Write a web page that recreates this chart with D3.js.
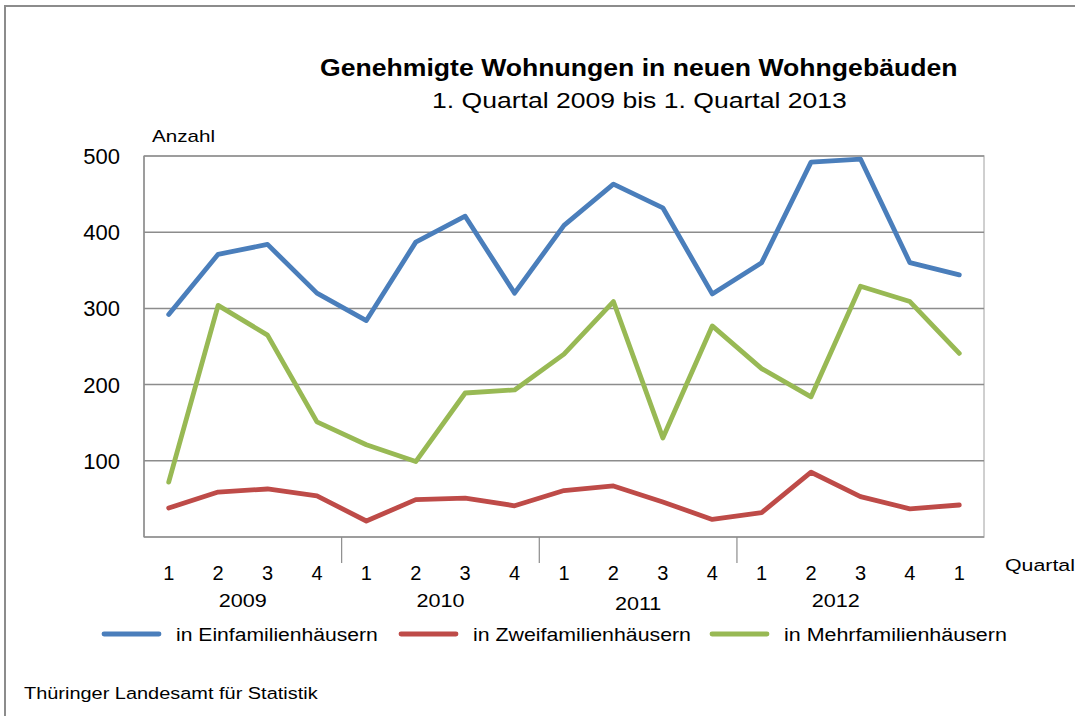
<!DOCTYPE html>
<html>
<head>
<meta charset="utf-8">
<script src="https://cdn.jsdelivr.net/npm/d3@7"></script>
<style>
  body { margin: 0; background: #fff; }
  text { font-family: "Liberation Sans", Arial, sans-serif; fill: #000; }
</style>
</head>
<body>
<svg></svg>
<script>
var quarters = ['1','2','3','4','1','2','3','4','1','2','3','4','1','2','3','4','1'];
var years = ['2009','2010','2011','2012'];
var yTicks = [100, 200, 300, 400, 500];

var einfamilien = [292,371,384,320,284,387,421,320,409,463,432,319,360,492,496,360,344];
var zweifamilien = [38,59,63,54,21,49,51,41,61,67,46,23,32,85,53,37,42];
var mehrfamilien = [72,304,265,151,121,99,189,193,240,309,130,277,221,184,329,309,241];

var seriesNames = ['in Einfamilienhäusern', 'in Zweifamilienhäusern', 'in Mehrfamilienhäusern'];
var seriesColors = ['#4a7ebb', '#be4b48', '#98b954'];

var W = 1075, H = 716;
var svg = d3.select("svg").attr("width", W).attr("height", H);

// outer frame
svg.append("rect")
    .attr("x", 5).attr("y", 6)
    .attr("width", W + 10).attr("height", H + 10)
    .attr("fill", "none").attr("stroke", "#8c8c8c").attr("stroke-width", 2);

var pLeft = 144, pRight = 984, pTop = 156, pBottom = 537;

var x = d3.scaleBand().domain(d3.range(quarters.length)).range([pLeft, pRight]);
var y = d3.scaleLinear().domain([0, 500]).range([pBottom, pTop]);

// place a text at (tx, ty) and widen its glyphs to the width it has in the original
function label(tx, ty, size, str, len, bold) {
    var t = svg.append("text")
        .style("font-size", size + "px")
        .style("font-weight", bold ? "bold" : "normal")
        .text(str);
    var s = len / t.node().getComputedTextLength();
    t.attr("transform", "translate(" + tx + "," + ty + ") scale(" + s + ",1)");
    return t;
}

// titles
label(320, 76, 23, "Genehmigte Wohnungen in neuen Wohngebäuden", 638, true);
label(432, 108, 22, "1. Quartal 2009 bis 1. Quartal 2013", 415);
label(152, 142, 16, "Anzahl", 63);

// plot border (top/right lighter)
svg.append("rect")
    .attr("x", pLeft).attr("y", pTop).attr("width", pRight - pLeft).attr("height", pBottom - pTop)
    .attr("fill", "none").attr("stroke", "#c0c0c0").attr("stroke-width", 1.5);

// gridlines
svg.append("g").selectAll("line")
    .data(yTicks)
    .enter().append("line")
    .attr("x1", pLeft).attr("x2", pRight)
    .attr("y1", function(d) { return y(d); })
    .attr("y2", function(d) { return y(d); })
    .attr("stroke", "#8c8c8c").attr("stroke-width", 1.5);

// y labels
svg.append("g").selectAll("text")
    .data(yTicks)
    .enter().append("text")
    .attr("x", 120).attr("y", function(d) { return y(d) + 8; })
    .attr("text-anchor", "end")
    .style("font-size", "22px")
    .text(function(d) { return d; });

// axes lines
svg.append("line").attr("x1", pLeft).attr("x2", pLeft).attr("y1", pTop).attr("y2", pBottom)
    .attr("stroke", "#8c8c8c").attr("stroke-width", 1.5);
svg.append("line").attr("x1", pLeft).attr("x2", pRight).attr("y1", pBottom).attr("y2", pBottom)
    .attr("stroke", "#8c8c8c").attr("stroke-width", 1.5);

// year separator ticks
svg.append("g").selectAll("line")
    .data([4, 8, 12])
    .enter().append("line")
    .attr("x1", function(d) { return x(d); })
    .attr("x2", function(d) { return x(d); })
    .attr("y1", pBottom).attr("y2", pBottom + 26)
    .attr("stroke", "#8c8c8c").attr("stroke-width", 1.2);

// quarter labels
svg.append("g").selectAll("text")
    .data(quarters)
    .enter().append("text")
    .attr("x", function(d, i) { return x(i) + x.bandwidth() / 2; })
    .attr("y", 580)
    .attr("text-anchor", "middle")
    .style("font-size", "20px")
    .text(function(d) { return d; });

// year labels
svg.append("g").selectAll("text")
    .data(years)
    .enter().append("text")
    .attr("transform", function(d, i) {
        var cx = (x(i * 4) + x(i * 4 + 3) + x.bandwidth()) / 2;
        return "translate(" + cx + "," + (i == 2 ? 610 : 607) + ") scale(1.2,1)";
    })
    .attr("text-anchor", "middle")
    .style("font-size", "18px")
    .text(function(d) { return d; });

label(1005, 571, 17, "Quartal", 70);

// lines
var line = d3.line()
    .x(function(d, i) { return x(i) + x.bandwidth() / 2; })
    .y(function(d) { return y(d); });

[einfamilien, zweifamilien, mehrfamilien].forEach(function(s, k) {
    svg.append("path")
        .datum(s)
        .attr("d", line)
        .attr("fill", "none")
        .attr("stroke", seriesColors[k])
        .attr("stroke-width", 4.8)
        .attr("stroke-linejoin", "round")
        .attr("stroke-linecap", "round");
});

// legend
var legX = [104, 401, 712];
var legLen = [202, 218, 223];
seriesNames.forEach(function(name, i) {
    svg.append("line")
        .attr("x1", legX[i]).attr("x2", legX[i] + 55).attr("y1", 634).attr("y2", 634)
        .attr("stroke", seriesColors[i])
        .attr("stroke-width", 4.8).attr("stroke-linecap", "round");
    label(legX[i] + 72, 641, 19, name, legLen[i]);
});

label(24, 699, 17, "Thüringer Landesamt für Statistik", 294);
</script>
</body>
</html>
